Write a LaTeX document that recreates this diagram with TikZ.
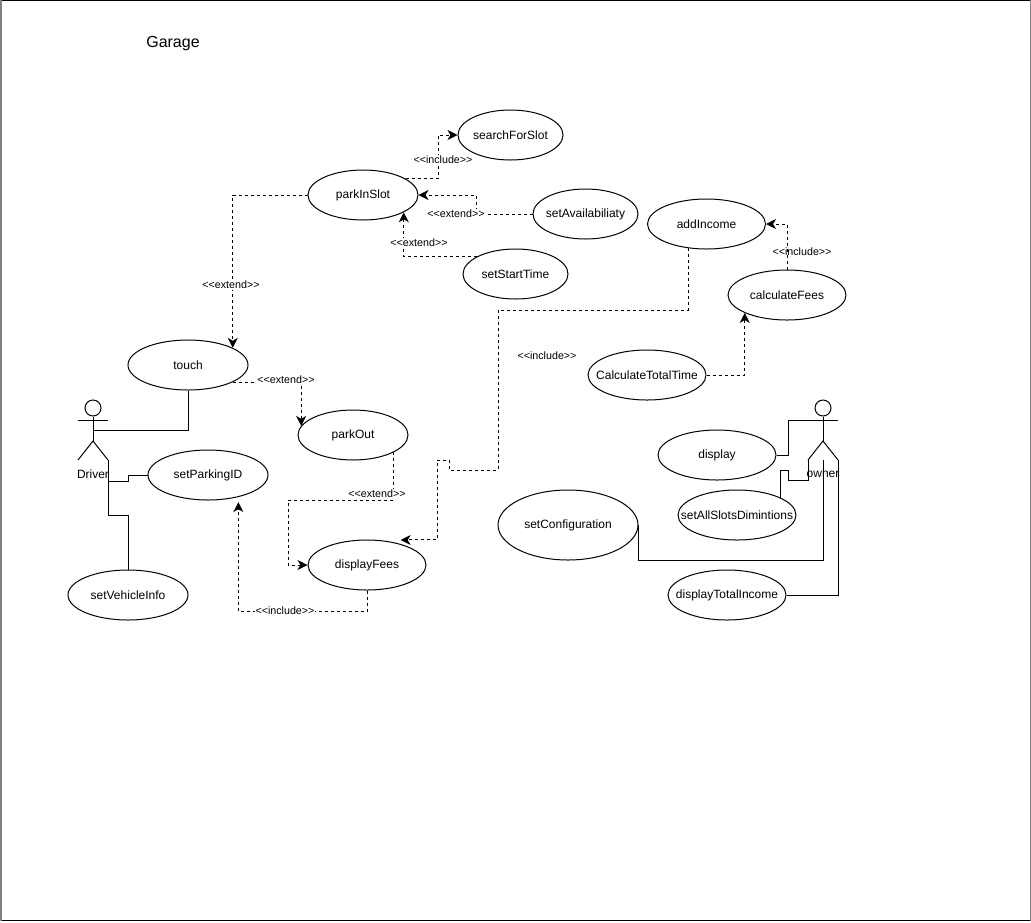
\documentclass[tikz,border=0pt]{standalone}
\usepackage{fontspec}
\setmainfont{Liberation Sans}
\usetikzlibrary{arrows.meta,shapes.geometric}
\newcommand{\extendtag}{<{}<extend>{}>}
\newcommand{\includetag}{<{}<include>{}>}
\tikzset{
    usecase/.style={draw=black, line width=1pt, ellipse, inner ysep=0pt, inner xsep=-20pt, minimum width=#1, minimum height=50pt, font=\fontsize{12}{14}\selectfont},
    usecase/.default=118pt,
    dep/.style={black, line width=1pt, dash pattern=on 3pt off 3pt, -{Stealth[length=10pt,width=10pt,inset=3pt]}},
    assoc/.style={black, line width=1pt},
    deplabel/.style={fill=white, inner sep=1pt, font=\fontsize{10.7}{12}\selectfont},
    freelabel/.style={inner sep=1pt, font=\fontsize{10.7}{12}\selectfont},
    actorhead/.style={draw=black, line width=1pt, circle, inner sep=0pt, minimum size=16pt},
    actorname/.style={inner sep=0pt, font=\fontsize{12}{14}\selectfont},
}
\begin{document}
\begin{tikzpicture}[x=1pt,y=-1pt]
        \useasboundingbox (0,0) rectangle (1031,922);
        \draw [black, line width=1pt] (0,0.5) -- (1031,0.5);
        \draw [black, line width=1pt] (0,920.5) -- (1031,920.5);
        \draw [gray, line width=2pt] (1,0) -- (1,921);
        \draw [gray, line width=1pt] (1030.5,0) -- (1030.5,921);
        \node [font=\fontsize{16}{19}\selectfont] (garageTitle) at (173,43.5) {Garage};

        % use cases
        \node [usecase=105pt] (searchForSlot) at (510.5,135) {searchForSlot};
        \node [usecase=110pt] (parkInSlot) at (363,195) {parkInSlot};
        \node [usecase=105pt] (setAvailabiliaty) at (585.5,214) {setAvailabiliaty};
        \node [usecase=105pt] (setStartTime) at (515.5,274) {setStartTime};
        \node [usecase] (addIncome) at (706.5,224) {addIncome};
        \node [usecase] (calculateFees) at (787,295) {calculateFees};
        \node [usecase] (calculateTotalTime) at (647,375) {CalculateTotalTime};
        \node [usecase=120pt] (touch) at (188,365) {touch};
        \node [usecase=110pt] (parkOut) at (353,435) {parkOut};
        \node [usecase=120pt] (setParkingID) at (208,475) {setParkingID};
        \node [usecase] (displayFees) at (367,565) {displayFees};
        \node [usecase=120pt] (setVehicleInfo) at (128,595) {setVehicleInfo};
        \node [usecase] (display) at (717,455) {display};
        \node [usecase] (setAllSlotsDimintions) at (737,515) {setAllSlotsDimintions};
        \node [usecase=140pt, minimum height=70pt] (setConfiguration) at (568,525) {setConfiguration};
        \node [usecase] (displayTotalIncome) at (727,595) {displayTotalIncome};

        % actors
        \node [actorhead] (driverHead) at (93,408) {};
        \coordinate (driverHip) at (93,441);
        \coordinate (driverArmL) at (78,420);
        \coordinate (driverArmR) at (108,420);
        \coordinate (driverLegL) at (78,460);
        \coordinate (driverLegR) at (108,460);
        \coordinate (driverWaist) at (93,430);
        \draw [assoc] (driverHead.south) -- (driverHip);
        \draw [assoc] (driverArmL) -- (driverArmR);
        \draw [assoc] (driverLegL) -- (driverHip) -- (driverLegR);
        \node [actorname] (driverName) at (93,474) {Driver};

        \node [actorhead] (ownerHead) at (823,408) {};
        \coordinate (ownerHip) at (823,441);
        \coordinate (ownerArmL) at (808,420);
        \coordinate (ownerArmR) at (838,420);
        \coordinate (ownerLegL) at (808,460);
        \coordinate (ownerLegR) at (838,460);
        \coordinate (ownerBase) at (823,460);
        \draw [assoc] (ownerHead.south) -- (ownerHip);
        \draw [assoc] (ownerArmL) -- (ownerArmR);
        \draw [assoc] (ownerLegL) -- (ownerHip) -- (ownerLegR);
        \node [actorname] (ownerName) at (823,474) {owner};

        % associations
        \draw [assoc] (touch.south) |- (driverWaist);
        \draw [assoc] (setParkingID.west) -- (128,475) -- (128,481) -| (driverLegR);
        \draw [assoc] (setVehicleInfo.north) |- (108,515) -- (driverLegR);
        \draw [assoc] (display.east) -- (788,455) |- (ownerArmL);
        \draw [assoc] (setAllSlotsDimintions.22) |- (788,470) |- (808,480) -- (ownerLegL);
        \draw [assoc] (setConfiguration.east) |- (823,560) -- (ownerBase);
        \draw [assoc] (displayTotalIncome.east) -| (ownerLegR);

        % dependencies
        \draw [dep] (parkInSlot.west) -| (touch.21) node [deplabel] at (231,285) {\extendtag};
        \draw [dep] (touch.-21) -| (parkOut.170) node [deplabel] at (286,380) {\extendtag};
        \draw [dep] (parkOut.-23) |- (288,500) |- (displayFees.west) node [deplabel] at (377,494) {\extendtag};
        \draw [dep] (displayFees.south) -- ++(0,21) -| ([yshift=-5pt]setParkingID.-36) node [deplabel] at (285,611) {\includetag};
        \draw [dep] (parkInSlot.21) -| (438,135) -- (searchForSlot.west) node [deplabel] at (443,160) {\includetag};
        \draw [dep] (setAvailabiliaty.west) -| (476,195) -- (parkInSlot.east) node [deplabel] at (456,214) {\extendtag};
        \draw [dep] (setStartTime.156) -| (parkInSlot.-23) node [deplabel] at (419,243) {\extendtag};
        \draw [dep] (addIncome.-126) |- (498,310) |- (449,470) |- (437,460) |- ([yshift=4pt]displayFees.32);
        \draw [dep] (calculateFees.north) |- (addIncome.east) node [freelabel] at (802,252) {\includetag};
        \draw [dep] (calculateTotalTime.east) -| (calculateFees.-157);

        \node [freelabel] (includeNote) at (547,356) {\includetag};
\end{tikzpicture}
\end{document}
